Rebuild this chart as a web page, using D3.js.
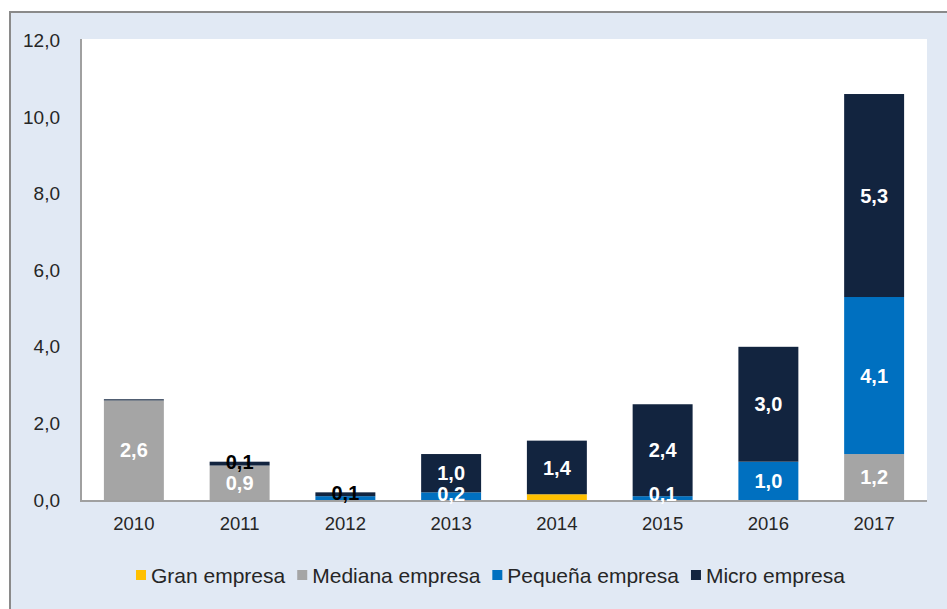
<!DOCTYPE html>
<html>
<head>
<meta charset="utf-8">
<script src="https://cdn.jsdelivr.net/npm/d3@7"></script>
<style>
  html, body { margin: 0; padding: 0; background: #ffffff; }
  svg { display: block; }
  text { font-family: "Liberation Sans", Arial, sans-serif; }
</style>
</head>
<body>
<svg id="chart" width="947" height="609"></svg>
<script>
// Años y series (miles de millones)
const years = ["2010", "2011", "2012", "2013", "2014", "2015", "2016", "2017"];
const seriesNames = ["Gran empresa", "Mediana empresa", "Pequeña empresa", "Micro empresa"];
const granEmpresa    = [0,    0,   0,   0,   0.15, 0,   0,   0];
const medianaEmpresa = [2.6,  0.9, 0,   0,   0,    0,   0,   1.2];
const pequenaEmpresa = [0,    0,   0.1, 0.2, 0,    0.1, 1.0, 4.1];
const microEmpresa   = [0.03, 0.1, 0.1, 1.0, 1.4,  2.4, 3.0, 5.3];
const yTicks = [0, 2, 4, 6, 8, 10, 12];

const colors = ["#ffc000", "#a5a5a5", "#0070c0", "#12243f"];
const unlabeled = new Set(["Gran empresa"]);

const svg = d3.select("#chart");
const W = 947, H = 609;

// Fondo y marco
svg.append("rect").attr("x", 0).attr("y", 0).attr("width", W).attr("height", H).attr("fill", "#ffffff");
svg.append("rect").attr("x", 10).attr("y", 12).attr("width", W - 10).attr("height", H - 12)
  .attr("fill", "#e1e9f4");
svg.append("line").attr("x1", 10).attr("x2", 10).attr("y1", 11).attr("y2", H)
  .attr("stroke", "#8a8a8a").attr("stroke-width", 2);
svg.append("line").attr("x1", 9).attr("x2", W).attr("y1", 12).attr("y2", 12)
  .attr("stroke", "#8a8a8a").attr("stroke-width", 2);

const plot = { left: 81, right: 927, top: 39, bottom: 500 };
svg.append("rect").attr("x", plot.left).attr("y", plot.top)
  .attr("width", plot.right - plot.left).attr("height", plot.bottom - plot.top)
  .attr("fill", "#ffffff");

const x = d3.scaleBand().domain(years).range([plot.left, plot.right]).paddingInner(0.433).paddingOuter(0.2165);
const y = d3.scaleLinear().domain([0, 12]).range([plot.bottom, plot.bottom - 12 * 38.3]);

const locale = d3.formatLocale({ decimal: ",", thousands: ".", grouping: [3], currency: ["", "€"] });
const fmt = locale.format(".1f");

// Apilado
const rows = years.map((yr, i) => ({
  year: yr,
  "Gran empresa": granEmpresa[i],
  "Mediana empresa": medianaEmpresa[i],
  "Pequeña empresa": pequenaEmpresa[i],
  "Micro empresa": microEmpresa[i]
}));
const stack = d3.stack().keys(seriesNames)(rows);

const layers = svg.append("g").selectAll("g").data(stack).join("g")
  .attr("fill", (d, i) => colors[i]);
layers.selectAll("rect").data(d => d.filter(s => s[1] - s[0] > 0)).join("rect")
  .attr("x", d => x(d.data.year))
  .attr("width", x.bandwidth())
  .attr("y", d => y(d[1]))
  .attr("height", d => y(d[0]) - y(d[1]));

// Ejes
const yAxis = d3.axisLeft(y).tickValues(yTicks).tickFormat(fmt).tickSize(0).tickPadding(21);
const gy = svg.append("g").attr("transform", `translate(${plot.left},0)`).call(yAxis);
gy.select(".domain").attr("stroke", "#a0a0a0").attr("stroke-width", 2)
  .attr("d", `M0,${plot.top}V${plot.bottom}`);
gy.selectAll("text").attr("font-size", 19).attr("fill", "#262626");

const xAxis = d3.axisBottom(x).tickSize(0).tickPadding(17);
const gx = svg.append("g").attr("transform", `translate(0,${plot.bottom})`).call(xAxis);
gx.select(".domain").attr("stroke", "#a0a0a0").attr("stroke-width", 2)
  .attr("d", `M${plot.left - 1},1H${plot.right}`);
gx.selectAll("text").attr("font-size", 18.5).attr("fill", "#262626");

// Etiquetas de valores
const labels = [];
years.forEach((yr, i) => {
  const col = [];
  stack.forEach((layer) => {
    const s = layer[i];
    const v = s[1] - s[0];
    if (unlabeled.has(layer.key) || v < 0.05) return;
    const dark = layer.key === "Micro empresa" && v <= 0.1;
    // las etiquetas finas en negro se apoyan en el borde superior del tramo
    let cy = dark ? y(s[1]) : y((s[0] + s[1]) / 2);
    cy = Math.min(cy, plot.bottom - 6);
    col.push({ year: yr, key: layer.key, v, cy, dark });
  });
  // si dos etiquetas se solapan, queda la superior
  col.forEach((d, k) => {
    const next = col[k + 1];
    if (next && Math.abs(next.cy - d.cy) < 12) return;
    labels.push(d);
  });
});
svg.append("g").selectAll("text").data(labels).join("text")
  .attr("x", d => x(d.year) + x.bandwidth() / 2)
  .attr("y", d => d.cy)
  .attr("dy", "0.36em")
  .attr("text-anchor", "middle")
  .attr("font-size", 20)
  .attr("font-weight", "bold")
  .attr("fill", d => d.dark ? "#000000" : "#ffffff")
  .text(d => fmt(d.v));

// Leyenda
const legend = svg.append("g").attr("transform", "translate(136,575)");
let lx = 0;
seriesNames.forEach((name, i) => {
  const g = legend.append("g").attr("transform", `translate(${lx},0)`);
  g.append("rect").attr("x", 0).attr("y", -5).attr("width", 10).attr("height", 10).attr("fill", colors[i]);
  const t = g.append("text").attr("x", 15).attr("y", 0).attr("dy", "0.36em")
    .attr("font-size", 21).attr("fill", "#262626").text(name);
  lx += 15 + t.node().getComputedTextLength() + 12;
});
</script>
</body>
</html>
